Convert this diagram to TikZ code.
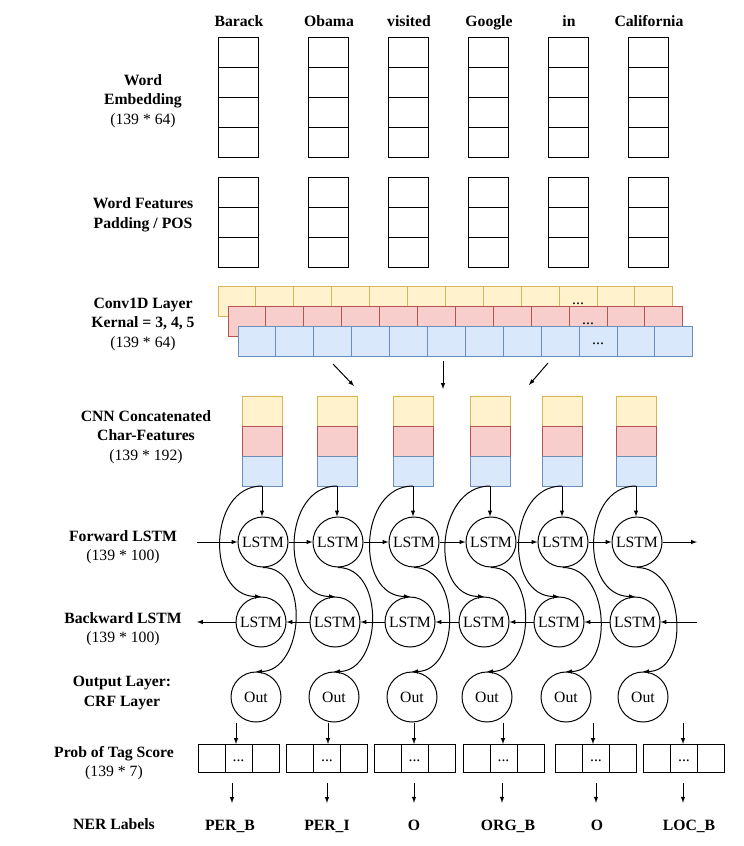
\documentclass[tikz,border=0pt]{standalone}
\usepackage{fontspec}
\setmainfont{Liberation Serif}
\usepackage{tikz}

\definecolor{ylwfill}{HTML}{FFF2CC}
\definecolor{ylwline}{HTML}{D6B656}
\definecolor{redfill}{HTML}{F8CECC}
\definecolor{redline}{HTML}{B85450}
\definecolor{bluefill}{HTML}{DAE8FC}
\definecolor{blueline}{HTML}{6C8EBF}

\begin{document}
\begin{tikzpicture}[>=latex, x=1pt, y=-1pt, line width=1pt,
    every node/.style={font=\fontsize{15.7}{19.5}\selectfont},
    lbl/.style={align=center, font=\fontsize{15.7}{19.5}\selectfont\bfseries},
    cell/.style={draw, minimum width=40pt, minimum height=30pt, inner sep=0pt, outer sep=0pt},
    ccell/.style={draw, minimum width=37.9pt, minimum height=30pt, inner sep=0pt, outer sep=0pt},
    pcell/.style={draw, minimum width=27pt, minimum height=28pt, inner sep=0pt, outer sep=0pt},
    dots/.style={text height=11pt, text depth=3.5pt, inner sep=0pt},
    lstm/.style={draw, circle, minimum size=50pt, inner sep=0pt}]
    \useasboundingbox (0,0) rectangle (744,846);

    \node[lbl] (embname) at (143,101) {Word\\Embedding\\{\mdseries(139 * 64)}};
    \node[lbl] (featname) at (143,215) {Word Features\\Padding / POS};
    \node[lbl] (convname) at (143,324) {Conv1D Layer\\Kernal = 3, 4, 5\\{\mdseries(139 * 64)}};
    \node[lbl] (catname) at (146,437) {CNN Concatenated\\Char-Features\\{\mdseries(139 * 192)}};
    \node[lbl] (fwname) at (123,547) {Forward LSTM\\{\mdseries(139 * 100)}};
    \node[lbl] (bwname) at (123,629) {Backward LSTM\\{\mdseries(139 * 100)}};
    \node[lbl] (outname) at (122,693) {Output Layer:\\CRF Layer};
    \node[lbl] (probname) at (114,763) {Prob of Tag Score\\{\mdseries(139 * 7)}};
    \node[lbl] (nername) at (114,824) {NER Labels};

    \foreach \i/\x/\w in {1/238/Barack, 2/328/Obama, 3/408/visited, 4/488/Google, 5/568/in, 6/648/California} {
        \node[lbl, anchor=base] (word\i) at (\x+1,26.5) {\w};
        \foreach \j in {1,...,4}
            \node[cell] (emb\i-\j) at (\x,22+30*\j) {};
        \foreach \j in {1,2,3}
            \node[cell] (feat\i-\j) at (\x,162+30*\j) {};
    }

    \foreach \k/\dx/\dy/\fc/\lc in {0/0/0/ylwfill/ylwline, 1/10/20/redfill/redline, 2/20/40/bluefill/blueline} {
        \foreach \j in {0,...,11}
            \node[ccell, fill=\fc, draw=\lc] (conv\k-\j) at (218+\dx+37.9*\j+18.95,301+\dy) {};
        \node[dots] (convdots\k) at (conv\k-9) {...};
    }

    \coordinate (ka) at (333,364);
    \coordinate (kb) at (443,361);
    \coordinate (kc) at (548,363);
    \coordinate (ke) at (354,386);
    \coordinate (kf) at (443,389);
    \coordinate (kg) at (529,385);
    \draw[->] (ka) -- (ke);
    \draw[->] (kb) -- (kf);
    \draw[->] (kc) -- (kg);

    \foreach \i/\x/\xb/\xo in {1/262/261/256, 2/337/335/334, 3/413/410/412, 4/490/484/487, 5/562/559/566, 6/636/635/643} {
        \node[cell, fill=ylwfill, draw=ylwline] (cat\i-1) at (\x,411) {};
        \node[cell, fill=redfill, draw=redline] (cat\i-2) at (\x,441) {};
        \node[cell, fill=bluefill, draw=blueline] (cat\i-3) at (\x,471) {};
        \node[lstm] (fw\i) at (\x+1,542) {LSTM};
        \node[lstm] (bw\i) at (\xb,622) {LSTM};
        \node[lstm] (out\i) at (\xo,697) {Out};
        \draw[->] (cat\i-3.south) -- (cat\i-3.south |- fw\i.north);
    }

    \coordinate (fwin) at (197,542);
    \coordinate (fwend) at (697,542);
    \coordinate (bwin) at (697,622);
    \coordinate (bwend) at (197,622);
    \draw[->] (fwin) -- (fw1);
    \draw[->] (bw1) -- (bwend);
    \foreach \i [evaluate=\i as \j using int(\i+1)] in {1,...,5} {
        \draw[->] (fw\i) -- (fw\j);
        \draw[->] (bw\j) -- (bw\i);
    }
    \draw[->] (fw6) -- (fwend);
    \draw[->] (bwin) -- (bw6);

    \foreach \i in {1,...,6} {
        \draw[->] (cat\i-3.south) .. controls +(-55,0) and +(-55,0) .. (bw\i.north);
        \draw[->] (fw\i.south) .. controls +(48,0) and +(48,0) .. (out\i.north);
    }

    \foreach \i/\xc/\ai/\ao/\xt/\tg in {1/238.5/236/232/230/PER\_B, 2/327/328/327/327/PER\_I, 3/414.5/414/414/414/O, 4/503.5/503/502/508/ORG\_B, 5/596/593/596/597/O, 6/684/683/683/689/LOC\_B} {
        \node[pcell] (prob\i-1) at (\xc-27,758) {};
        \node[pcell, dots] (prob\i-2) at (\xc,758) {...};
        \node[pcell] (prob\i-3) at (\xc+27,758) {};
        \node[lbl, anchor=base] (tag\i) at (\xt,830) {\tg};
        \coordinate (pin\i) at (\ai,723);
        \coordinate (pout\i) at (\ao,783);
        \draw[->] (pin\i) -- (pin\i |- prob\i-2.north);
        \draw[->, shorten >=13pt] (pout\i) -- (pout\i |- tag\i.north);
    }
\end{tikzpicture}
\end{document}
